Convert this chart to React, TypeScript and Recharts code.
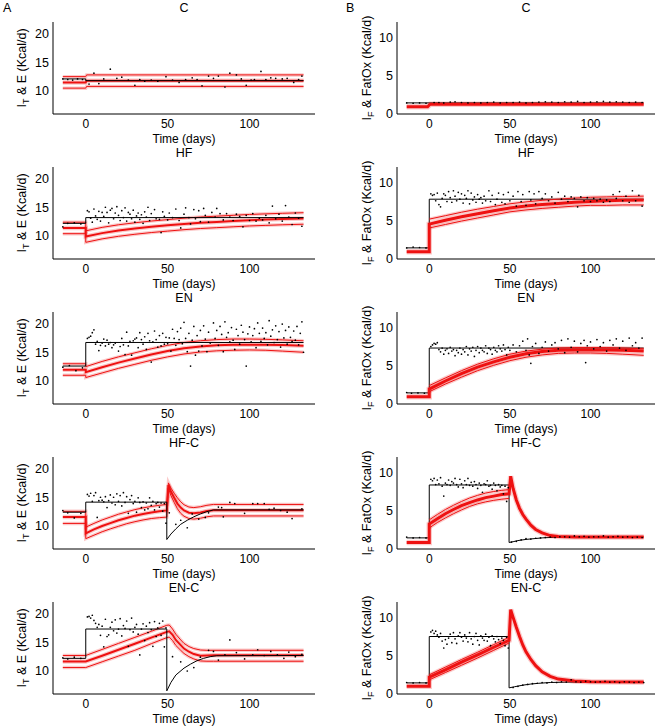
import { ComposedChart, Line, Scatter, XAxis, YAxis, Label } from "recharts";

type Pt = [number, number];

const FONT = '"Liberation Sans", Arial, sans-serif';
const RED = "#ee1111";

const rowTops = [22, 167, 312, 457, 602];
const xTicks = [0, 50, 100];
const leftTicks = [10, 15, 20];
const rightTicks = [0, 5, 10];

// ---- C ----
const cLeftPoints: Pt[] = [[-14,12.1],[-11,12.0],[-8,11.9],[-5,12.1],[-2,12.0],[2,11.2],[5,13.1],[8,11.3],[11,12.1],[15,13.8],[19,12.2],[22,12.4],[26,11.9],[30,11.0],[33,12.0],[36,11.7],[40,11.9],[44,11.7],[49,12.5],[53,11.9],[57,11.5],[61,12.0],[65,12.3],[68,12.0],[71,10.9],[75,12.6],[78,12.2],[81,12.6],[85,10.7],[88,13.1],[92,12.8],[95,12.1],[98,11.0],[101,11.9],[103,12.0],[107,13.4],[110,12.0],[113,12.3],[116,12.2],[120,12.1],[123,12.2],[127,11.5],[130,12.0],[132,12.6]];
const cLeftModel: Pt[] = [[-14,12.1],[0,12.1],[0,11.8],[133,11.8]];
const cLeftMean: Pt[] = [[-14,11.5],[0,11.5],[0.5,11.8],[133,11.8]];
const cLeftUpper: Pt[] = [[-14,12.5],[0,12.5],[0.5,12.8],[133,12.8]];
const cLeftLower: Pt[] = [[-14,10.5],[0,10.5],[0.5,10.8],[133,10.8]];

const cRightPoints: Pt[] = [[-14,1.45],[-10,1.4],[-6,1.45],[-2,1.4],[3,1.5],[6,1.5],[9,1.45],[13,1.55],[16,1.6],[20,1.5],[24,1.45],[28,1.5],[32,1.45],[36,1.5],[40,1.55],[44,1.45],[48,1.5],[52,1.5],[56,1.55],[60,1.45],[64,1.5],[68,1.55],[72,1.6],[76,1.55],[80,1.5],[84,1.6],[88,1.55],[92,1.65],[96,1.5],[100,1.55],[104,1.6],[108,1.65],[112,1.55],[116,1.6],[120,1.55],[124,1.5],[128,1.55],[132,1.5]];
const cRightModel: Pt[] = [[-14,1.45],[133,1.45]];
const cRightMean: Pt[] = [[-14,0.95],[-1,0.95],[0.5,1.27],[133,1.27]];

// ---- HF ----
const hfLeftPoints: Pt[] = [[-14,11.6],[-11,12.2],[-7,12.3],[-3,12.1],[1,14.4],[2,14.2],[3,13.1],[4,12.4],[5,14.7],[6,13.5],[7,12.9],[8,14.3],[9,12.6],[10,14.1],[11,13.4],[12,15.0],[13,14.1],[14,12.3],[15,14.5],[16,14.8],[17,13.0],[18,14.0],[19,15.1],[20,13.6],[21,12.7],[22,14.4],[23,13.2],[24,14.9],[25,12.6],[26,14.1],[27,13.8],[28,13.0],[29,14.5],[30,12.4],[31,13.5],[32,14.0],[33,12.9],[34,13.7],[35,12.2],[36,14.2],[37,13.3],[38,15.0],[39,12.7],[40,13.9],[42,14.6],[43,13.0],[45,12.9],[46,10.6],[47,14.2],[48,13.4],[50,12.8],[51,14.0],[53,13.2],[55,14.7],[57,12.7],[58,11.4],[60,13.8],[61,14.9],[63,13.2],[64,12.1],[66,14.6],[67,13.0],[69,14.4],[70,12.5],[72,14.8],[73,13.6],[75,12.4],[77,14.1],[79,13.3],[80,14.8],[82,13.9],[84,12.8],[86,13.9],[88,13.3],[90,12.7],[92,13.8],[94,13.4],[96,11.6],[98,13.6],[100,12.7],[102,13.9],[104,12.6],[106,13.1],[108,12.8],[110,13.6],[112,12.3],[114,15.2],[116,13.0],[118,13.8],[120,12.6],[122,15.3],[124,13.3],[126,12.0],[128,14.0],[130,13.1],[132,11.7]];
const hfLeftModel: Pt[] = [[-14,12.2],[0,12.2],[0,13.2],[133,13.2]];
const hfLeftMean: Pt[] = [[-14,11.4],[0,11.4],[0,9.9],[10,10.5],[20,10.95],[30,11.3],[40,11.6],[50,11.85],[60,12.1],[70,12.3],[80,12.45],[90,12.6],[100,12.75],[110,12.85],[120,12.95],[133,13.05]];
const hfLeftUpper: Pt[] = [[-14,12.4],[0,12.4],[0,10.9],[10,11.5],[20,11.95],[30,12.3],[40,12.6],[50,12.85],[60,13.1],[70,13.3],[80,13.45],[90,13.6],[100,13.75],[110,13.85],[120,13.95],[133,14.05]];
const hfLeftLower: Pt[] = [[-14,10.4],[0,10.4],[0,8.9],[10,9.5],[20,9.95],[30,10.3],[40,10.6],[50,10.85],[60,11.1],[70,11.3],[80,11.45],[90,11.6],[100,11.75],[110,11.85],[120,11.95],[133,12.05]];

const hfRightPoints: Pt[] = [[-14,1.45],[-10,1.55],[-6,1.5],[-2,1.45],[1,8.5],[2,8.3],[3,8.4],[4,7.6],[5,8.6],[6,7.1],[7,6.8],[8,7.9],[9,8.5],[10,8.3],[11,7.5],[12,8.8],[13,8.0],[14,7.4],[15,8.9],[16,8.2],[17,7.6],[18,8.7],[19,7.8],[20,8.5],[21,7.3],[22,8.3],[23,7.9],[24,8.9],[25,7.2],[26,8.6],[27,7.7],[28,8.1],[29,7.4],[30,8.4],[31,7.8],[32,8.0],[33,7.3],[34,8.2],[35,7.6],[37,8.9],[38,7.5],[39,8.3],[41,7.1],[42,7.8],[43,8.6],[45,7.4],[46,8.4],[47,7.2],[49,8.7],[50,7.6],[52,8.2],[54,6.9],[55,8.8],[57,7.5],[58,8.4],[60,7.0],[62,8.8],[63,7.7],[65,8.5],[66,7.2],[68,8.8],[70,7.9],[72,8.5],[74,7.6],[76,8.1],[78,7.3],[80,8.7],[82,7.8],[84,8.2],[86,7.5],[88,8.1],[90,7.9],[92,6.8],[94,8.1],[96,7.6],[98,8.0],[100,7.5],[102,7.9],[104,7.6],[106,7.8],[108,7.4],[110,7.7],[112,7.5],[114,8.4],[116,7.9],[118,8.8],[120,7.6],[122,8.2],[124,7.4],[126,8.9],[128,7.6],[130,8.3],[132,6.9]];
const hfRightModel: Pt[] = [[-14,1.45],[0,1.45],[0,7.8],[133,7.8]];
const hfRightMean: Pt[] = [[-14,0.95],[0,0.95],[0,4.55],[10,5.05],[20,5.5],[30,5.9],[40,6.3],[50,6.65],[60,6.9],[70,7.1],[80,7.25],[90,7.4],[100,7.5],[110,7.6],[120,7.65],[133,7.7]];
const hfRightUpper: Pt[] = [[0,5.2],[10,5.65],[20,6.1],[30,6.5],[40,6.85],[50,7.2],[60,7.45],[70,7.65],[80,7.8],[90,7.95],[100,8.05],[110,8.1],[120,8.15],[133,8.2]];
const hfRightLower: Pt[] = [[0,4.05],[10,4.5],[20,4.95],[30,5.35],[40,5.75],[50,6.15],[60,6.4],[70,6.6],[80,6.75],[90,6.9],[100,7.0],[110,7.0],[120,7.05],[133,7.05]];

// ---- EN ----
const enLeftPoints: Pt[] = [[-14,12.4],[-10,12.7],[-6,11.8],[-2,12.3],[1,17.4],[2,17.6],[3,17.8],[4,18.4],[5,18.9],[6,16.4],[7,16.9],[8,15.3],[9,16.2],[10,16.6],[11,17.3],[12,16.1],[13,17.1],[14,16.4],[15,16.7],[16,15.8],[17,16.3],[18,16.6],[20,15.2],[21,16.0],[22,17.4],[23,16.3],[24,14.6],[25,18.5],[26,16.1],[27,16.9],[28,14.5],[29,17.0],[30,17.3],[31,17.5],[32,15.8],[33,18.4],[34,17.2],[35,16.4],[36,17.7],[37,15.5],[38,18.3],[39,17.0],[40,13.3],[41,16.8],[42,18.7],[43,17.2],[44,15.9],[45,17.9],[46,16.1],[47,18.3],[48,16.4],[49,17.6],[50,16.5],[51,17.5],[52,15.2],[53,19.0],[54,17.4],[55,16.2],[56,18.6],[57,17.2],[58,19.2],[59,16.5],[60,20.2],[61,17.4],[62,15.1],[63,18.3],[64,12.6],[65,17.1],[66,19.5],[67,14.5],[68,17.9],[69,15.2],[70,18.8],[71,16.1],[72,19.6],[73,17.3],[74,15.1],[75,18.5],[76,16.6],[78,20.1],[79,17.4],[80,18.8],[81,16.2],[82,19.5],[83,18.1],[84,15.1],[85,20.3],[86,17.6],[87,18.4],[88,16.8],[89,19.3],[90,17.1],[91,15.5],[92,19.0],[93,17.9],[94,16.4],[95,19.7],[96,18.5],[97,17.2],[98,12.6],[99,18.2],[100,19.4],[101,16.8],[102,17.9],[103,19.1],[104,15.8],[105,20.1],[106,18.3],[107,16.9],[108,19.2],[109,17.4],[110,18.4],[111,16.3],[112,20.5],[113,17.8],[114,18.9],[115,16.7],[116,19.6],[117,17.2],[118,18.6],[119,15.9],[120,19.9],[121,17.5],[122,18.8],[123,16.4],[124,19.4],[125,17.6],[126,16.9],[127,18.7],[128,17.1],[129,19.5],[130,16.3],[131,18.3],[132,20.3],[133,15.0]];
const enLeftModel: Pt[] = [[-14,12.6],[0,12.6],[0,16.7],[133,16.7]];
const enLeftMean: Pt[] = [[-14,11.95],[0,11.95],[0,11.55],[10,12.4],[20,13.2],[30,13.9],[40,14.6],[50,15.2],[60,15.7],[70,16.0],[80,16.2],[90,16.3],[100,16.3],[110,16.3],[120,16.25],[133,16.15]];
const enLeftUpper: Pt[] = [[-14,13.0],[0,13.0],[0,12.5],[10,13.4],[20,14.2],[30,14.9],[40,15.6],[50,16.2],[60,16.7],[70,17.0],[80,17.2],[90,17.3],[100,17.3],[110,17.25],[120,17.15],[133,17.0]];
const enLeftLower: Pt[] = [[-14,11.0],[0,11.0],[0,10.6],[10,11.4],[20,12.2],[30,12.9],[40,13.6],[50,14.2],[60,14.7],[70,15.05],[80,15.25],[90,15.35],[100,15.4],[110,15.35],[120,15.2],[133,15.0]];

const enRightPoints: Pt[] = [[-14,1.5],[-11,1.4],[-7,1.45],[-3,1.4],[1,7.5],[2,7.7],[3,7.9],[4,7.8],[5,8.0],[6,7.1],[7,6.8],[8,7.3],[9,6.5],[10,7.0],[11,7.2],[12,6.6],[13,7.4],[14,6.9],[15,7.1],[16,6.3],[17,7.0],[18,6.7],[19,7.3],[20,6.5],[21,7.1],[22,6.8],[23,7.5],[24,6.4],[25,7.2],[26,6.9],[27,7.4],[28,6.2],[29,7.0],[30,7.5],[31,6.7],[32,7.3],[33,7.0],[34,6.8],[35,7.6],[36,6.6],[37,7.3],[38,7.1],[39,6.5],[40,7.4],[41,7.0],[42,6.8],[43,7.6],[44,7.2],[45,6.9],[46,7.7],[47,7.1],[48,6.4],[49,7.4],[50,7.0],[52,7.7],[54,6.8],[56,7.6],[58,8.2],[60,7.0],[61,8.5],[62,6.4],[63,5.3],[64,7.5],[66,7.9],[68,6.6],[70,7.4],[72,8.1],[74,6.9],[76,7.7],[78,8.0],[80,7.2],[82,8.3],[84,6.7],[86,8.5],[88,7.4],[90,8.2],[92,6.8],[94,7.9],[96,8.3],[97,5.4],[98,7.6],[100,8.1],[102,7.2],[104,8.4],[106,7.5],[108,8.0],[110,6.9],[112,8.3],[114,7.7],[116,8.5],[118,7.3],[120,8.2],[122,7.0],[124,8.6],[126,7.6],[128,8.0],[130,7.3],[132,8.6]];
const enRightModel: Pt[] = [[-14,1.45],[0,1.45],[0,7.3],[133,7.3]];
const enRightMean: Pt[] = [[-14,0.95],[0,0.95],[0,1.95],[10,3.0],[20,3.95],[30,4.8],[40,5.5],[50,6.1],[60,6.55],[70,6.85],[80,7.0],[90,7.05],[100,7.05],[110,7.05],[120,7.0],[133,6.9]];
const enRightUpper: Pt[] = [[0,2.4],[10,3.4],[20,4.35],[30,5.2],[40,5.9],[50,6.5],[60,6.9],[70,7.15],[80,7.3],[90,7.35],[100,7.35],[110,7.35],[120,7.3],[133,7.2]];
const enRightLower: Pt[] = [[0,1.6],[10,2.6],[20,3.5],[30,4.35],[40,5.05],[50,5.65],[60,6.1],[70,6.4],[80,6.6],[90,6.65],[100,6.65],[110,6.6],[120,6.5],[133,6.35]];

// ---- HF-C ----
const hfcLeftPoints: Pt[] = [[-14,12.7],[-11,12.3],[-7,11.4],[-3,12.2],[1,15.5],[2,15.2],[3,15.7],[4,14.3],[5,15.3],[6,15.8],[7,11.5],[8,14.4],[9,15.0],[10,14.5],[11,14.2],[12,15.1],[13,13.2],[14,14.4],[15,15.4],[16,14.0],[17,15.0],[18,13.7],[19,15.6],[20,14.3],[21,15.3],[22,13.5],[23,15.8],[24,14.1],[25,15.1],[26,12.2],[27,14.6],[28,15.3],[29,13.9],[30,14.3],[31,12.4],[32,14.9],[33,14.1],[34,13.2],[35,14.2],[36,12.8],[37,14.0],[38,13.0],[39,14.9],[40,13.6],[41,14.3],[42,12.8],[43,13.9],[44,14.1],[45,13.3],[46,14.0],[47,12.6],[48,13.9],[49,10.5],[51,12.3],[55,10.3],[58,11.0],[62,9.7],[65,12.1],[69,11.2],[73,11.5],[75,12.3],[81,13.3],[83,13.2],[84,11.6],[88,14.1],[91,13.9],[97,12.2],[102,13.9],[105,13.9],[109,13.9],[112,12.9],[115,13.1],[119,12.7],[123,12.4],[126,11.3],[132,13.0]];
const hfcLeftModel: Pt[] = [[-14,12.4],[0,12.4],[0,14.15],[49.5,14.15],[49.5,7.65],[52,8.6],[55,9.5],[58,10.3],[62,11.0],[66,11.6],[70,12.1],[74,12.5],[78,12.8],[133,12.8]];
const hfcLeftMean: Pt[] = [[-14,11.55],[0,11.55],[0,8.7],[5,9.4],[10,10.0],[15,10.5],[20,11.0],[25,11.4],[30,11.8],[35,12.1],[40,12.35],[45,12.55],[49.5,12.7],[50.5,17.1],[52,16.0],[54,14.9],[56,13.9],[58,13.2],[60,12.7],[63,12.3],[66,12.2],[70,12.35],[74,12.6],[78,12.75],[133,12.75]];
const hfcLeftUpper: Pt[] = [[-14,12.55],[0,12.55],[0,9.8],[5,10.45],[10,11.05],[15,11.55],[20,12.05],[25,12.45],[30,12.85],[35,13.15],[40,13.4],[45,13.6],[49.5,13.75],[50.5,17.5],[52,16.6],[54,15.7],[56,14.9],[58,14.2],[60,13.7],[63,13.3],[66,13.2],[70,13.35],[74,13.6],[78,13.75],[133,13.75]];
const hfcLeftLower: Pt[] = [[-14,10.45],[0,10.45],[0,7.8],[5,8.4],[10,9.0],[15,9.5],[20,9.95],[25,10.4],[30,10.75],[35,11.05],[40,11.3],[45,11.45],[49.5,11.55],[50.5,16.6],[52,15.3],[54,14.1],[56,13.0],[58,12.2],[60,11.7],[63,11.3],[66,11.2],[70,11.35],[74,11.6],[78,11.75],[133,11.75]];

const hfcRightPoints: Pt[] = [[-14,1.55],[-10,1.45],[-6,1.5],[-2,1.45],[1,9.1],[2,8.9],[3,9.2],[4,8.4],[5,9.0],[6,8.5],[7,9.3],[8,8.2],[9,6.9],[10,8.6],[11,8.4],[12,9.0],[13,8.3],[14,8.8],[15,8.6],[16,9.2],[17,8.4],[18,8.1],[19,9.1],[20,8.5],[21,8.0],[22,8.9],[23,8.4],[24,9.2],[25,8.3],[26,8.7],[27,8.2],[28,8.8],[29,8.4],[30,7.9],[31,8.6],[32,8.3],[33,7.4],[34,8.5],[35,8.4],[36,8.9],[37,8.2],[38,8.3],[39,7.8],[40,8.6],[41,8.3],[42,7.6],[43,8.4],[44,8.1],[45,8.3],[46,7.2],[47,8.2],[48,6.2],[49,8.0],[51,0.9],[54,1.0],[57,1.2],[60,1.35],[63,1.3],[66,1.4],[69,1.45],[72,1.5],[75,1.55],[78,1.5],[81,1.6],[84,1.6],[87,1.55],[90,1.7],[93,1.6],[96,1.65],[99,1.55],[102,1.6],[105,1.6],[108,1.7],[111,1.55],[114,1.6],[117,1.65],[120,1.55],[123,1.6],[126,1.5],[129,1.55],[132,1.5]];
const hfcRightModel: Pt[] = [[-14,1.45],[0,1.45],[0,8.35],[49.5,8.35],[49.5,0.85],[52,0.95],[55,1.1],[60,1.25],[65,1.35],[70,1.45],[80,1.55],[133,1.55]];
const hfcRightMean: Pt[] = [[-14,0.86],[0,0.86],[0,3.25],[5,3.95],[10,4.6],[15,5.15],[20,5.65],[25,6.05],[30,6.4],[35,6.7],[40,6.9],[45,7.1],[49.5,7.2],[50.5,9.5],[52,7.9],[54,6.4],[56,5.3],[58,4.5],[60,3.9],[63,3.1],[66,2.55],[70,2.1],[75,1.75],[80,1.62],[90,1.55],[133,1.55]];
const hfcRightUpper: Pt[] = [[0,3.8],[5,4.5],[10,5.15],[15,5.7],[20,6.2],[25,6.65],[30,7.0],[35,7.3],[40,7.5],[45,7.65],[49.5,7.75]];
const hfcRightLower: Pt[] = [[0,2.75],[5,3.45],[10,4.05],[15,4.6],[20,5.1],[25,5.55],[30,5.9],[35,6.15],[40,6.35],[45,6.5],[49.5,6.6]];

// ---- EN-C ----
const encLeftPoints: Pt[] = [[-14,12.3],[-11,12.1],[-7,12.4],[-3,12.2],[1,19.4],[2,19.5],[3,19.2],[4,19.7],[5,18.8],[6,18.3],[7,17.6],[8,18.1],[9,16.2],[10,17.8],[11,14.2],[12,19.0],[13,16.0],[14,16.3],[15,17.6],[16,18.5],[17,17.0],[18,18.9],[19,16.6],[20,17.3],[21,19.1],[22,16.1],[23,17.9],[24,17.4],[25,18.7],[26,14.3],[27,17.2],[28,19.2],[29,16.8],[30,17.6],[31,18.1],[32,16.4],[33,12.8],[34,17.3],[35,18.2],[36,15.3],[37,17.8],[38,16.7],[39,18.4],[40,17.2],[41,14.3],[42,18.6],[43,16.0],[44,17.5],[45,18.3],[46,16.2],[47,18.7],[48,14.2],[49,17.5],[53,12.5],[58,11.6],[62,10.0],[66,10.6],[70,12.4],[75,13.6],[78,13.4],[81,11.9],[85,12.8],[88,15.4],[92,13.2],[97,12.1],[102,12.8],[105,13.7],[109,12.7],[113,13.4],[117,12.8],[121,12.2],[124,13.3],[128,12.5],[132,12.9]];
const encLeftModel: Pt[] = [[-14,12.2],[0,12.2],[0,17.3],[49.5,17.3],[49.5,6.55],[52,8.0],[55,9.3],[60,10.5],[64,11.2],[68,11.8],[72,12.2],[76,12.5],[80,12.65],[133,12.7]];
const encLeftMean: Pt[] = [[-14,11.65],[0,11.65],[10,12.65],[20,13.7],[30,14.75],[40,15.8],[49.5,16.8],[51,16.9],[53,16.3],[55,15.4],[58,14.5],[60,13.9],[63,13.35],[66,12.95],[70,12.65],[74,12.7],[78,12.75],[133,12.75]];
const encLeftUpper: Pt[] = [[-14,12.7],[0,12.7],[10,13.75],[20,14.8],[30,15.85],[40,16.9],[49.5,17.95],[51,18.0],[53,17.3],[55,16.4],[58,15.4],[60,14.8],[63,14.25],[66,13.9],[70,13.65],[74,13.6],[78,13.6],[133,13.6]];
const encLeftLower: Pt[] = [[-14,10.6],[0,10.6],[10,11.6],[20,12.6],[30,13.6],[40,14.75],[49.5,15.8],[51,15.9],[53,15.3],[55,14.45],[58,13.6],[60,13.05],[63,12.5],[66,12.1],[70,11.75],[74,11.7],[78,11.7],[133,11.7]];

const encRightPoints: Pt[] = [[-14,1.5],[-10,1.45],[-6,1.5],[-2,1.45],[1,8.1],[2,8.3],[3,7.9],[4,8.2],[5,7.7],[6,7.4],[7,7.9],[8,6.9],[9,6.0],[10,7.1],[11,6.5],[12,7.3],[13,7.8],[14,6.7],[15,8.0],[16,7.2],[17,6.6],[18,7.6],[19,8.0],[20,7.4],[21,6.9],[22,7.7],[23,7.3],[24,6.8],[25,8.0],[26,7.2],[27,6.5],[28,7.5],[29,7.9],[30,7.0],[31,6.4],[32,7.6],[33,7.3],[34,7.0],[35,7.8],[36,6.9],[37,7.4],[38,6.3],[39,7.6],[40,7.2],[41,6.8],[42,7.5],[43,7.1],[44,6.6],[45,7.3],[46,7.0],[47,6.3],[48,7.4],[49,6.0],[52,0.85],[55,1.0],[58,1.15],[61,1.25],[64,1.35],[67,1.4],[70,1.5],[73,1.45],[76,1.55],[79,1.5],[82,1.6],[85,1.55],[88,1.85],[91,1.6],[94,1.55],[97,1.65],[100,1.6],[103,1.55],[106,1.6],[109,1.65],[112,1.55],[115,1.6],[118,1.5],[121,1.6],[124,1.55],[127,1.5],[130,1.55],[133,1.5]];
const encRightModel: Pt[] = [[-14,1.45],[0,1.45],[0,7.5],[49.5,7.5],[49.5,0.8],[53,0.95],[58,1.15],[63,1.3],[68,1.4],[75,1.5],[85,1.55],[133,1.55]];
const encRightMean: Pt[] = [[-14,1.0],[0,1.0],[0,2.2],[10,3.15],[20,4.15],[30,5.1],[40,6.1],[49.5,7.0],[50.5,11.0],[52,10.0],[54,8.7],[56,7.5],[58,6.4],[60,5.5],[63,4.5],[66,3.7],[70,2.9],[75,2.3],[80,1.95],[90,1.7],[100,1.6],[133,1.55]];
const encRightUpper: Pt[] = [[0,2.5],[10,3.5],[20,4.5],[30,5.45],[40,6.45],[49.5,7.4]];
const encRightLower: Pt[] = [[0,1.85],[10,2.8],[20,3.75],[30,4.7],[40,5.7],[49.5,6.65]];

const toXY = (pts: Pt[]) => pts.map(([x, y]) => ({ x, y }));

type PanelDef = {
  title: string;
  side: "left" | "right";
  row: number;
  points: Pt[];
  model: Pt[];
  mean: Pt[];
  upper?: Pt[];
  lower?: Pt[];
};

const panels: PanelDef[] = [
  { title: "C", side: "left", row: 0, points: cLeftPoints, model: cLeftModel, mean: cLeftMean, upper: cLeftUpper, lower: cLeftLower },
  { title: "C", side: "right", row: 0, points: cRightPoints, model: cRightModel, mean: cRightMean },
  { title: "HF", side: "left", row: 1, points: hfLeftPoints, model: hfLeftModel, mean: hfLeftMean, upper: hfLeftUpper, lower: hfLeftLower },
  { title: "HF", side: "right", row: 1, points: hfRightPoints, model: hfRightModel, mean: hfRightMean, upper: hfRightUpper, lower: hfRightLower },
  { title: "EN", side: "left", row: 2, points: enLeftPoints, model: enLeftModel, mean: enLeftMean, upper: enLeftUpper, lower: enLeftLower },
  { title: "EN", side: "right", row: 2, points: enRightPoints, model: enRightModel, mean: enRightMean, upper: enRightUpper, lower: enRightLower },
  { title: "HF-C", side: "left", row: 3, points: hfcLeftPoints, model: hfcLeftModel, mean: hfcLeftMean, upper: hfcLeftUpper, lower: hfcLeftLower },
  { title: "HF-C", side: "right", row: 3, points: hfcRightPoints, model: hfcRightModel, mean: hfcRightMean, upper: hfcRightUpper, lower: hfcRightLower },
  { title: "EN-C", side: "left", row: 4, points: encLeftPoints, model: encLeftModel, mean: encLeftMean, upper: encLeftUpper, lower: encLeftLower },
  { title: "EN-C", side: "right", row: 4, points: encRightPoints, model: encRightModel, mean: encRightMean, upper: encRightUpper, lower: encRightLower },
];

const Dot = (p: any) => <circle cx={p.cx} cy={p.cy} r={0.85} fill="#000" />;

function YTitle({ viewBox, cx, side }: any) {
  const cy = viewBox.y + viewBox.height / 2;
  return (
    <text
      x={cx}
      y={cy}
      transform={`rotate(-90, ${cx}, ${cy})`}
      textAnchor="middle"
      dominantBaseline="central"
      fontSize={12.5}
      fontFamily={FONT}
      fill="#000"
    >
      <tspan>I</tspan>
      <tspan fontSize={9} dy={4}>{side === "left" ? "T" : "F"}</tspan>
      <tspan dy={-4}>{side === "left" ? " & E (Kcal/d)" : " & FatOx (Kcal/d)"}</tspan>
    </text>
  );
}

function XTitle({ viewBox }: any) {
  return (
    <text x={viewBox.x + viewBox.width / 2} y={viewBox.y + 29} textAnchor="middle" fontSize={12} fontFamily={FONT} fill="#000">
      Time (days)
    </text>
  );
}

function Panel({ p }: { p: PanelDef }) {
  const left = p.side === "left";
  const width = left ? 330 : 331;
  const yWidth = left ? 53 : 67;
  const rightMargin = left ? 15 : 6;
  const top = rowTops[p.row] - 22;
  const meanW = left ? 2 : 3;

  const redLines = [
    ...(p.upper ? [<Line key="uh" data={toXY(p.upper)} dataKey="y" type="linear" stroke={RED} strokeOpacity={0.22} strokeWidth={3.5} dot={false} activeDot={false} isAnimationActive={false} />] : []),
    ...(p.lower ? [<Line key="lh" data={toXY(p.lower)} dataKey="y" type="linear" stroke={RED} strokeOpacity={0.22} strokeWidth={3.5} dot={false} activeDot={false} isAnimationActive={false} />] : []),
    <Line key="mh" data={toXY(p.mean)} dataKey="y" type="linear" stroke={RED} strokeOpacity={0.22} strokeWidth={meanW + 2.5} dot={false} activeDot={false} isAnimationActive={false} />,
    ...(p.upper ? [<Line key="u" data={toXY(p.upper)} dataKey="y" type="linear" stroke={RED} strokeWidth={1} dot={false} activeDot={false} isAnimationActive={false} />] : []),
    ...(p.lower ? [<Line key="l" data={toXY(p.lower)} dataKey="y" type="linear" stroke={RED} strokeWidth={1} dot={false} activeDot={false} isAnimationActive={false} />] : []),
    <Line key="m" data={toXY(p.mean)} dataKey="y" type="linear" stroke={RED} strokeWidth={meanW} dot={false} activeDot={false} isAnimationActive={false} />,
  ];
  const blackLine = (
    <Line key="k" data={toXY(p.model)} dataKey="y" type="linear" stroke="#000" strokeWidth={1} dot={false} activeDot={false} isAnimationActive={false} />
  );

  return (
    <div style={{ position: "absolute", left: left ? 0 : 330, top, width, height: 150 }}>
      <div
        style={{
          position: "absolute",
          left: yWidth,
          width: width - yWidth - rightMargin,
          top: 1,
          textAlign: "center",
          fontFamily: FONT,
          fontSize: 12.5,
          lineHeight: "14px",
          color: "#000",
        }}
      >
        {p.title}
      </div>
      <ComposedChart width={width} height={150} margin={{ top: 22, right: rightMargin, bottom: 0, left: 0 }}>
        <XAxis
          type="number"
          dataKey="x"
          domain={[-20, 140]}
          ticks={xTicks}
          allowDataOverflow
          height={36}
          tickLine={false}
          axisLine={{ stroke: "#000", strokeWidth: 1 }}
          tick={{ fill: "#000", fontSize: 12, fontFamily: FONT }}
          tickSize={3}
          tickMargin={2}
        >
          <Label content={(props: any) => <XTitle viewBox={props.viewBox} />} />
        </XAxis>
        <YAxis
          type="number"
          dataKey="y"
          domain={left ? [6, 22] : [0, 12]}
          ticks={left ? leftTicks : rightTicks}
          allowDataOverflow
          width={yWidth}
          tickLine={false}
          axisLine={{ stroke: "#000", strokeWidth: 1 }}
          tick={{ fill: "#000", fontSize: 12.5, fontFamily: FONT }}
          tickSize={2}
          tickMargin={2}
        >
          <Label content={(props: any) => <YTitle viewBox={props.viewBox} cx={left ? 22 : 37} side={p.side} />} />
        </YAxis>
        {left ? [...redLines, blackLine] : [blackLine, ...redLines]}
        <Scatter data={toXY(p.points)} shape={Dot} isAnimationActive={false} />
      </ComposedChart>
    </div>
  );
}

export default function App() {
  return (
    <div style={{ position: "absolute", left: 0, top: 0, width: 661, height: 728, background: "#fff", fontFamily: FONT, overflow: "hidden" }}>
      <div style={{ position: "absolute", left: 3, top: 1, fontSize: 12.5, lineHeight: "14px" }}>A</div>
      <div style={{ position: "absolute", left: 346, top: 1, fontSize: 12.5, lineHeight: "14px" }}>B</div>
      {panels.map((p, i) => (
        <Panel key={i} p={p} />
      ))}
    </div>
  );
}
